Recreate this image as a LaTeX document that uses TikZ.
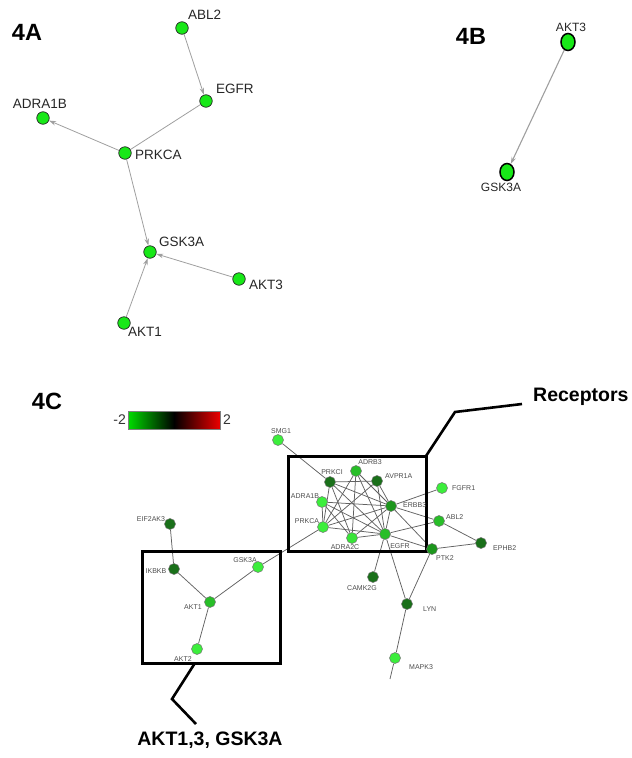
\documentclass[tikz,border=0pt]{standalone}
\usepackage{fontspec}
\setmainfont{Liberation Sans}
\usetikzlibrary{arrows.meta,shapes.geometric}
\pgfdeclarelayer{edges}
\pgfdeclarelayer{boxes}
\pgfsetlayers{edges,boxes,main}

\definecolor{gA}{RGB}{24,232,24}
\definecolor{gLight}{RGB}{60,238,60}
\definecolor{gMid}{RGB}{40,190,40}
\definecolor{gMidDark}{RGB}{28,150,28}
\definecolor{gDark}{RGB}{26,112,26}
\definecolor{barGreen}{RGB}{0,220,0}
\definecolor{barRed}{RGB}{236,0,0}

\tikzset{
  nodeA/.style={circle, draw=black!85, line width=0.7pt, fill=gA, minimum size=12.5pt, inner sep=0pt},
  nodeB/.style={ellipse, draw=black, line width=1.5pt, fill=gA, minimum width=14pt, minimum height=17pt, inner sep=0pt},
  nodeC/.style={circle, draw=black!55, line width=0.5pt, minimum size=11pt, inner sep=0pt},
  labA/.style={font=\fontsize{13.5}{15}\selectfont, text=black!85, inner sep=0pt},
  labB/.style={font=\fontsize{12}{13}\selectfont, text=black!85, inner sep=0pt},
  labC/.style={font=\fontsize{7}{8}\selectfont, text=black!70, inner sep=0pt},
  edgeA/.style={draw=gray!75, line width=0.8pt},
  arrA/.style={edgeA, -{Stealth[length=7pt,width=4.5pt]}},
  edgeC/.style={draw=black!62, line width=0.75pt},
  boxC/.style={draw=black, line width=3pt, line join=miter},
  calloutC/.style={draw=black, line width=2.6pt, line join=miter},
  paneltitle/.style={font=\bfseries\fontsize{23.5}{25}\selectfont, inner sep=0pt},
  calltext/.style={font=\bfseries\fontsize{19.5}{21}\selectfont, inner sep=0pt},
  barlabel/.style={font=\fontsize{14}{15}\selectfont, text=black!80, inner sep=0pt},
}

\begin{document}
\begin{tikzpicture}[x=1pt,y=-1pt]
\useasboundingbox (0,0) rectangle (632,758);

% ---------------- panel 4A ----------------
\node[paneltitle] (tA) at (27,32) {4A};
\node[nodeA] (a-abl2)   at (182,28) {};
\node[nodeA] (a-egfr)   at (206,101) {};
\node[nodeA] (a-adra1b) at (43,118) {};
\node[nodeA] (a-prkca)  at (125,153) {};
\node[nodeA] (a-gsk3a)  at (150,252) {};
\node[nodeA] (a-akt3)   at (239,279) {};
\node[nodeA] (a-akt1)   at (124,323) {};

\node[labA, anchor=west] (la-abl2)   at (188,15)  {ABL2};
\node[labA, anchor=west] (la-egfr)   at (216,89)  {EGFR};
\node[labA]              (la-adra1b) at (40,104)  {ADRA1B};
\node[labA, anchor=west] (la-prkca)  at (135,155) {PRKCA};
\node[labA, anchor=west] (la-gsk3a)  at (159,242) {GSK3A};
\node[labA, anchor=west] (la-akt3)   at (249,285) {AKT3};
\node[labA, anchor=west] (la-akt1)   at (128,332) {AKT1};

\begin{pgfonlayer}{edges}
  \draw[arrA] (a-abl2) -- (a-egfr);
  \draw[edgeA] (a-egfr) -- (a-prkca);
  \draw[arrA] (a-prkca) -- (a-adra1b);
  \draw[arrA] (a-prkca) -- (a-gsk3a);
  \draw[arrA] (a-akt3) -- (a-gsk3a);
  \draw[arrA] (a-akt1) -- (a-gsk3a);
\end{pgfonlayer}

% ---------------- panel 4B ----------------
\node[paneltitle] (tB) at (471,36) {4B};
\node[nodeB] (b-akt3)  at (568,42) {};
\node[nodeB] (b-gsk3a) at (507,172) {};
\node[labB] (lb-akt3)  at (571,27)  {AKT3};
\node[labB] (lb-gsk3a) at (501,187) {GSK3A};
\begin{pgfonlayer}{edges}
  \draw[arrA, line width=1.1pt] (b-akt3) -- (b-gsk3a);
\end{pgfonlayer}

% ---------------- panel 4C ----------------
\node[paneltitle] (tC) at (47,401) {4C};

% colour scale
\shade[left color=barGreen, right color=black] (128,411) rectangle (174,429);
\shade[left color=black, right color=barRed] (174,411) rectangle (220,429);
\draw[gray, line width=0.6pt] (128,411) rectangle (220,429);
\node[barlabel, anchor=east] (bar-lo) at (126,420) {-2};
\node[barlabel, anchor=west] (bar-hi) at (223,420) {2};

% interaction nodes
\node[nodeC, fill=gLight]    (smg1)    at (278,440) {};
\node[nodeC, fill=gDark]     (prkci)   at (330,482) {};
\node[nodeC, fill=gMid]      (adrb3)   at (356,471) {};
\node[nodeC, fill=gDark]     (avpr1a)  at (377,481) {};
\node[nodeC, fill=gLight]    (adra1b)  at (322,502) {};
\node[nodeC, fill=gMidDark]  (erbb3)   at (391,506) {};
\node[nodeC, fill=gLight]    (fgfr1)   at (442,488) {};
\node[nodeC, fill=gMid]      (abl2)    at (439,521) {};
\node[nodeC, fill=gLight]    (prkca)   at (323,527) {};
\node[nodeC, fill=gLight!80!gMid] (adra2c) at (352,538) {};
\node[nodeC, fill=gMid]      (egfr)    at (385,534) {};
\node[nodeC, fill=gMidDark]  (ptk2)    at (432,549) {};
\node[nodeC, fill=gDark]     (ephb2)   at (481,543) {};
\node[nodeC, fill=gDark]     (camk2g)  at (373,577) {};
\node[nodeC, fill=gDark]     (lyn)     at (407,604) {};
\node[nodeC, fill=gLight]    (mapk3)   at (395,658) {};
\coordinate (mapkend) at (390,679);

\node[nodeC, fill=gDark]     (eif2ak3) at (170,524) {};
\node[nodeC, fill=gDark]     (ikbkb)   at (174,569) {};
\node[nodeC, fill=gLight]    (gsk3a)   at (258,567) {};
\node[nodeC, fill=gMid]      (akt1)    at (210,602) {};
\node[nodeC, fill=gLight]    (akt2)    at (197,649) {};

% node labels
\node[labC] (l-smg1)   at (281,431) {SMG1};
\node[labC] (l-prkci)  at (332,472) {PRKCI};
\node[labC] (l-adrb3)  at (370,462) {ADRB3};
\node[labC, anchor=west] (l-avpr1a) at (385,476) {AVPR1A};
\node[labC] (l-adra1b) at (305,496) {ADRA1B};
\node[labC, anchor=west] (l-erbb3)  at (403,505) {ERBB3};
\node[labC, anchor=west] (l-fgfr1)  at (452,488) {FGFR1};
\node[labC, anchor=west] (l-abl2)   at (446,517) {ABL2};
\node[labC] (l-prkca)  at (307,521) {PRKCA};
\node[labC] (l-adra2c) at (345,547) {ADRA2C};
\node[labC] (l-egfr)   at (400,546) {EGFR};
\node[labC, anchor=west] (l-ptk2)   at (436,558) {PTK2};
\node[labC, anchor=west] (l-ephb2)  at (493,548) {EPHB2};
\node[labC] (l-camk2g) at (362,588) {CAMK2G};
\node[labC, anchor=west] (l-lyn)    at (423,609) {LYN};
\node[labC, anchor=west] (l-mapk3)  at (409,667) {MAPK3};
\node[labC] (l-eif2ak3) at (151,519) {EIF2AK3};
\node[labC, anchor=east] (l-ikbkb)  at (166.5,571) {IKBKB};
\node[labC] (l-gsk3a)  at (245,560) {GSK3A};
\node[labC] (l-akt1)   at (193,607) {AKT1};
\node[labC] (l-akt2)   at (183,659) {AKT2};

\begin{pgfonlayer}{edges}
  % receptor cluster
  \draw[edgeC] (smg1) -- (prkci);
  \draw[edgeC] (prkci) -- (avpr1a);
  \draw[edgeC] (prkci) -- (prkca);
  \draw[edgeC] (prkci) -- (adra2c);
  \draw[edgeC] (prkci) -- (egfr);
  \draw[edgeC] (prkci) -- (erbb3);
  \draw[edgeC] (adrb3) -- (prkca);
  \draw[edgeC] (adrb3) -- (erbb3);
  \draw[edgeC] (adrb3) -- (egfr);
  \draw[edgeC] (adrb3) -- (adra2c);
  \draw[edgeC] (avpr1a) -- (prkca);
  \draw[edgeC] (avpr1a) -- (erbb3);
  \draw[edgeC] (avpr1a) -- (egfr);
  \draw[edgeC] (adra1b) -- (erbb3);
  \draw[edgeC] (adra1b) -- (egfr);
  \draw[edgeC] (adra1b) -- (prkca);
  \draw[edgeC] (adra1b) -- (adra2c);
  \draw[edgeC] (prkca) -- (erbb3);
  \draw[edgeC] (prkca) -- (egfr);
  \draw[edgeC] (adra2c) -- (erbb3);
  \draw[edgeC] (adra2c) -- (egfr);
  \draw[edgeC] (erbb3) -- (egfr);
  \draw[edgeC] (erbb3) -- (fgfr1);
  \draw[edgeC] (erbb3) -- (abl2);
  \draw[edgeC] (erbb3) -- (ptk2);
  \draw[edgeC] (egfr) -- (abl2);
  \draw[edgeC] (egfr) -- (ptk2);
  \draw[edgeC] (egfr) -- (camk2g);
  \draw[edgeC] (egfr) -- (lyn);
  \draw[edgeC] (abl2) -- (ephb2);
  \draw[edgeC] (ptk2) -- (ephb2);
  \draw[edgeC] (ptk2) -- (lyn);
  \draw[edgeC] (lyn) -- (mapk3);
  \draw[edgeC] (mapk3) -- (mapkend);
  % AKT cluster
  \draw[edgeC] (prkca) -- (gsk3a);
  \draw[edgeC] (eif2ak3) -- (ikbkb);
  \draw[edgeC] (ikbkb) -- (akt1);
  \draw[edgeC] (akt1) -- (gsk3a);
  \draw[edgeC] (akt1) -- (akt2);
\end{pgfonlayer}

% highlight boxes and callouts
\coordinate (rbox-nw) at (288,456);
\coordinate (rbox-se) at (426,551);
\coordinate (rbox-ne) at (426,456);
\coordinate (lbox-nw) at (142,551);
\coordinate (lbox-se) at (280,663);
\coordinate (lbox-foot) at (195,663);
\coordinate (rcall-bend) at (455,412);
\coordinate (rcall-end) at (522,404);
\coordinate (lcall-bend) at (172,699);
\coordinate (lcall-end) at (196,724);

\node[calltext, anchor=west] (receptors) at (533,397) {Receptors};
\node[calltext] (aktgroup) at (210,740) {AKT1,3, GSK3A};

\begin{pgfonlayer}{boxes}
  \draw[boxC] (rbox-nw) rectangle (rbox-se);
  \draw[boxC] (lbox-nw) rectangle (lbox-se);
  \draw[calloutC] (rbox-ne) -- (rcall-bend) -- (rcall-end);
  \draw[calloutC] (lbox-foot) -- (lcall-bend) -- (lcall-end);
\end{pgfonlayer}
\end{tikzpicture}
\end{document}
